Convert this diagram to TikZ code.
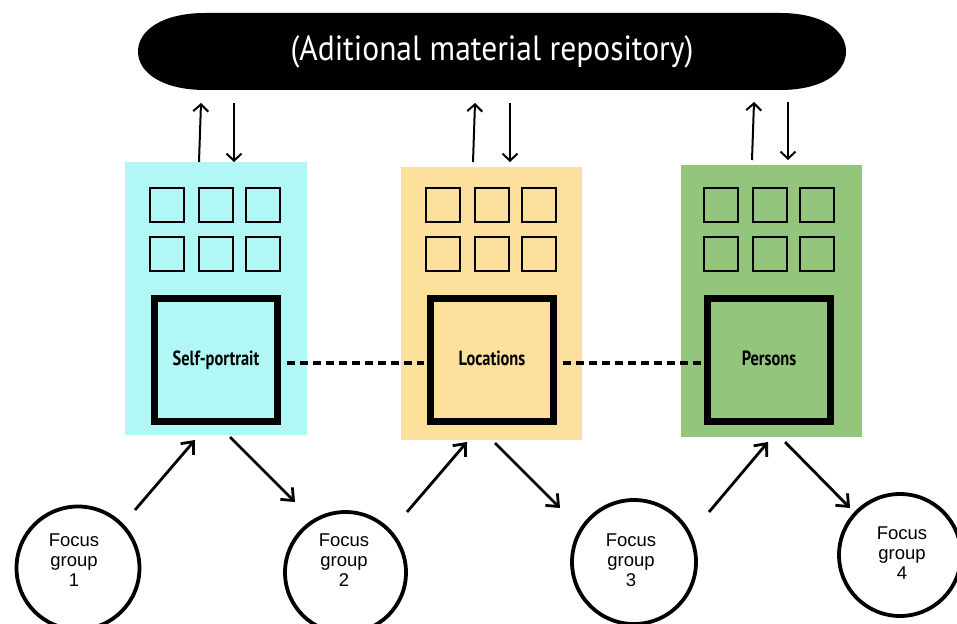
\documentclass[tikz,border=0pt]{standalone}
\usepackage{fontspec}
\setmainfont{Liberation Sans}
\newfontfamily\repofont{PT Sans}[FakeStretch=0.9]
\newfontfamily\boxfont{PT Sans}[FakeStretch=0.8]
\usetikzlibrary{arrows.meta}

\definecolor{cyanfill}{RGB}{177,247,245}
\definecolor{orangefill}{RGB}{253,224,156}
\definecolor{greenfill}{RGB}{148,197,125}

\tikzset{
  panel/.style={rectangle, draw=none, minimum width=181pt, minimum height=273pt, inner sep=0pt},
  cell/.style={rectangle, draw=black, line width=2pt, minimum size=34pt, inner sep=0pt},
  topic/.style={rectangle, draw=black, line width=7pt, minimum size=123pt, inner sep=0pt,
    font=\boxfont\bfseries\fontsize{20.5}{22}\selectfont},
  group/.style={circle, draw=black, line width=3.8pt, inner sep=0pt},
  grouptext/.style={align=center, font=\fontsize{18.5}{20}\selectfont},
  link/.style={dash pattern=on 7.5pt off 5.5pt, line width=3.2pt, shorten <=6pt, shorten >=3pt},
  vflow/.style={line width=2pt, -{Straight Barb[length=7pt,width=15pt,line width=2pt]}},
  dflow/.style={line width=2.8pt, -{Straight Barb[length=10pt,width=17pt,line width=2.8pt]}}
}

\begin{document}
\begin{tikzpicture}[x=1pt,y=-1pt]
\useasboundingbox (0,0) rectangle (957,623);
\fill[white] (0,0) rectangle (957,623);

% repository banner
\fill[black] (205,13) -- (780,13)
  .. controls (822,13) and (846,30) .. (846,51.5)
  .. controls (846,73) and (822,90) .. (780,90)
  -- (205,90)
  .. controls (163,90) and (138,73) .. (138,51.5)
  .. controls (138,30) and (163,13) .. (205,13) -- cycle;
\node[text=white, font=\repofont\fontsize{35}{37}\selectfont] (repo) at (492,52) {(Aditional material repository)};

% three topic panels
\node[panel, fill=cyanfill, minimum width=182pt] (p1) at (216,298.5) {};
\node[panel, fill=orangefill] (p2) at (491.5,303.5) {};
\node[panel, fill=greenfill, minimum height=272pt] (p3) at (771.5,301) {};

% small cells
\foreach \cx/\pn in {216/1, 491.5/2, 770/3}{
  \foreach \dx [count=\i] in {-49,0,47}{
    \node[cell] (c\pn a\i) at (\cx+\dx,205) {};
    \node[cell] (c\pn b\i) at (\cx+\dx,254) {};
  }
}

% main topic boxes
\node[topic] (b1) at (216,360) {\raisebox{3pt}{Self-portrait}};
\node[topic] (b2) at (492,360) {\raisebox{3pt}{Locations}};
\node[topic] (b3) at (769,360) {\raisebox{3pt}{Persons}};

\draw[link] ([yshift=-3pt]b1.east) -- ([yshift=-3pt]b2.west);
\draw[link] ([yshift=-3pt]b2.east) -- ([yshift=-3pt]b3.west);

% exchange with the repository
\coordinate (u1a) at (199,162); \coordinate (u1b) at (201,103);
\coordinate (d1a) at (234,103); \coordinate (d1b) at (234,162);
\coordinate (u2a) at (473,162); \coordinate (u2b) at (475,103);
\coordinate (d2a) at (510,103); \coordinate (d2b) at (510,162);
\coordinate (u3a) at (752,160); \coordinate (u3b) at (754,102);
\coordinate (d3a) at (788,102); \coordinate (d3b) at (788,160);
\foreach \k in {1,2,3}{
  \draw[vflow] (u\k a) -- (u\k b);
  \draw[vflow] (d\k a) -- (d\k b);
}

% focus groups
\node[group, minimum size=123pt] (fg1) at (78,568) {};
\node[group, minimum size=121pt] (fg2) at (345.5,572.5) {};
\node[group, minimum size=124pt] (fg3) at (634,562) {};
\node[group, minimum size=122pt] (fg4) at (900,555) {};
\node[grouptext] (t1) at (74,560) {Focus\\group\\1};
\node[grouptext] (t2) at (344,560) {Focus\\group\\2};
\node[grouptext] (t3) at (631,560) {Focus\\group\\3};
\node[grouptext] (t4) at (902,553) {Focus\\group\\4};

% flows between groups and panels
\coordinate (g1o) at (135,510); \coordinate (p1i) at (195,440);
\coordinate (p1o) at (230,437); \coordinate (g2i) at (295,502);
\coordinate (g2o) at (407,512); \coordinate (p2i) at (467,442);
\coordinate (p2o) at (495,443); \coordinate (g3i) at (560,508);
\coordinate (g3o) at (709,512); \coordinate (p3i) at (768,442);
\coordinate (p3o) at (785,442); \coordinate (g4i) at (850,508);
\draw[dflow] (g1o) -- (p1i);
\draw[dflow] (p1o) -- (g2i);
\draw[dflow] (g2o) -- (p2i);
\draw[dflow] (p2o) -- (g3i);
\draw[dflow] (g3o) -- (p3i);
\draw[dflow] (p3o) -- (g4i);
\end{tikzpicture}
\end{document}
